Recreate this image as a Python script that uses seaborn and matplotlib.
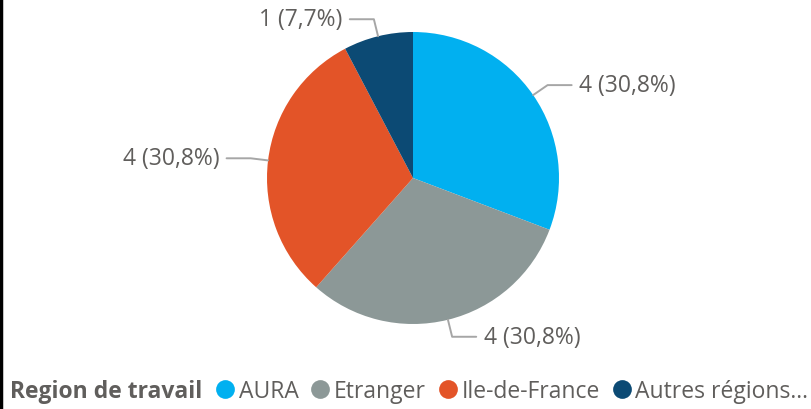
import numpy as np
import matplotlib
matplotlib.use("Agg")
import matplotlib.pyplot as plt
import seaborn as sns
from matplotlib.lines import Line2D

sns.set_theme(style="white")
plt.rcParams['font.family'] = ['Open Sans', 'DejaVu Sans']

categories = ["AURA", "Etranger", "Ile-de-France", "Autres régions..."]
values = [4, 4, 4, 1]
colors = ["#01B0F0", "#8C9897", "#E35428", "#0C4A74"]
legend_title = "Region de travail"
text_color = "#605E5C"

fig = plt.figure(figsize=(8.12, 4.10), dpi=100)
W, H = 812, 410
cx, cy, r = 413, 179, 146
ax = fig.add_axes([(cx - r) / W, (H - cy - r) / H, 2 * r / W, 2 * r / H])
wedges, _ = ax.pie(values, colors=colors, startangle=90, counterclock=False,
                   radius=1.0, wedgeprops=dict(linewidth=0))
ax.set_xlim(-1, 1)
ax.set_ylim(-1, 1)
ax.set_aspect("equal")
ax.axis("off")

total = sum(values)
for w, v in zip(wedges, values):
    theta = np.deg2rad((w.theta1 + w.theta2) / 2)
    c, s = np.cos(theta), np.sin(theta)
    sign = 1 if c >= 0 else -1
    p0 = (1.0 * c, 1.0 * s)
    p1 = (1.12 * c, 1.12 * s)
    p2 = (p1[0] + sign * 0.165, p1[1])
    ax.add_line(Line2D([p0[0], p1[0], p2[0]], [p0[1], p1[1], p2[1]],
                       color="#A6A6A6", lw=1.4, clip_on=False))
    pct = f"{100 * v / total:.1f}".replace(".", ",")
    ax.text(p2[0] + sign * 0.05, p2[1], f"{v} ({pct}%)", ha="left" if sign > 0 else "right",
            va="center", fontsize=16.5, color=text_color, clip_on=False)

# Legend
fig.text(10 / W, 1 - 392 / H, legend_title, fontsize=16.5, fontweight="bold",
         color=text_color, ha="left", va="center")
handles = [Line2D([0], [0], marker="o", linestyle="", markersize=13.5,
                  markerfacecolor=col, markeredgewidth=0) for col in colors]
leg = fig.legend(handles, categories, loc="center left",
                 bbox_to_anchor=(218 / W, 1 - 392 / H), ncol=4, frameon=False,
                 fontsize=16.5, handlelength=0.6, handletextpad=0.3,
                 columnspacing=0.65, borderaxespad=0, borderpad=0)
for t in leg.get_texts():
    t.set_color(text_color)

# left border
fig.add_artist(Line2D([1 / W, 1 / W], [0, 1], color="black", lw=2.5,
                      transform=fig.transFigure))

fig.savefig("out.png", dpi=100, facecolor="white")
